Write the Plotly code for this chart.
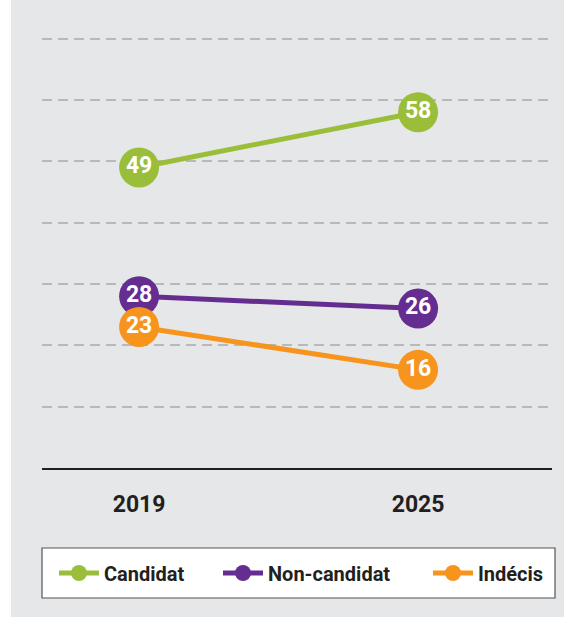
import plotly.graph_objects as go

years = ["2019", "2025"]
series_names = ["Candidat", "Non-candidat", "Indécis"]
candidat = [49, 58]
non_candidat = [28, 26]
indecis = [23, 16]
grid_values = [10, 20, 30, 40, 50, 60, 70]

colors = ["#9bbe3a", "#662d91", "#f7941d"]
FONT = "Roboto, 'DejaVu Sans', sans-serif"

W, H = 564, 617
ML, MR, MT, MB = 42, 12, 0, 149
PW, PH = W - ML - MR, H - MT - MB

xs = list(range(len(years)))
legend_ids = ["legend", "legend2", "legend3"]
legend_text_px = [104, 268, 478]

fig = go.Figure()
for name, vals, col, lid in zip(series_names, [candidat, non_candidat, indecis], colors, legend_ids):
    fig.add_trace(go.Scatter(
        x=xs, y=vals, name=name, legend=lid,
        mode="lines+markers+text",
        line=dict(color=col, width=5),
        marker=dict(color=col, size=40, line=dict(width=0)),
        text=[str(v) for v in vals],
        textposition="middle center",
        textfont=dict(color="white", size=23, family=FONT, weight="bold"),
        hoverinfo="skip",
        cliponaxis=False,
    ))

def px_x(p):
    return (p - ML) / PW

def px_y(p):
    return (H - MB - p) / PH

shapes = [
    dict(type="rect", xref="paper", yref="paper",
         x0=px_x(-2), x1=px_x(11), y0=px_y(H + 2), y1=px_y(-2),
         fillcolor="white", line=dict(width=0), layer="below"),
    dict(type="rect", xref="paper", yref="paper",
         x0=px_x(42), x1=px_x(555), y0=px_y(598), y1=px_y(548),
         fillcolor="white", line=dict(color="#555555", width=1.2), layer="below"),
]

legend_common = dict(
    orientation="h", xanchor="left", yanchor="middle",
    y=px_y(573),
    bgcolor="rgba(0,0,0,0)", borderwidth=0,
    font=dict(size=20, family=FONT, color="#231f20", weight="bold"),
    itemsizing="trace", itemwidth=40,
)
legends = {}
for lid, tx in zip(legend_ids, legend_text_px):
    legends[lid] = dict(legend_common, x=px_x(tx - 50))

fig.update_layout(
    width=W, height=H,
    margin=dict(l=ML, r=MR, t=MT, b=MB),
    paper_bgcolor="#e6e7e8",
    plot_bgcolor="#e6e7e8",
    showlegend=True,
    shapes=shapes,
    font=dict(family=FONT, color="#231f20"),
    xaxis=dict(
        range=[-0.348, 1.48],
        tickvals=xs, ticktext=years,
        showgrid=False, zeroline=False,
        showline=True, linecolor="#231f20", linewidth=2,
        ticks="", ticklabelstandoff=14,
        tickfont=dict(size=23, family=FONT, color="#231f20", weight="bold"),
        fixedrange=True,
    ),
    yaxis=dict(
        range=[0, 76.3],
        tickvals=grid_values,
        showticklabels=False,
        showgrid=True, gridcolor="#b9b9bb", gridwidth=1.6, griddash="10px,6px",
        zeroline=False, showline=False,
        fixedrange=True,
    ),
    **legends,
)

fig.write_html(
    "out.html",
    config={"displayModeBar": False},
    post_script="document.body.style.margin='0';document.body.style.overflow='hidden';",
)
